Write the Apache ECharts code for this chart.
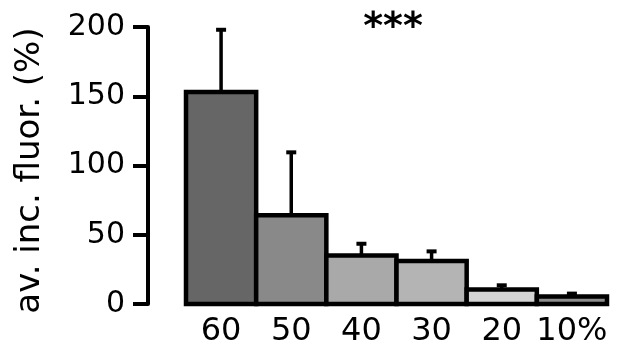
<!DOCTYPE html>
<html>
<head>
<meta charset="utf-8">
<script src="https://cdn.jsdelivr.net/npm/echarts@6/dist/echarts.min.js"></script>
<style>
html,body{margin:0;padding:0;background:#fff;}
#chart{width:629px;height:357px;}
</style>
</head>
<body>
<div id="chart"></div>
<script>
const categories = ['60', '50', '40', '30', '20', '10%'];
const means = [153, 64, 35, 31, 10.5, 5.5];
const errTops = [198, 109.5, 43.5, 38, 13.5, 7.5];
const barColors = ['#666666', '#898989', '#a9a9a9', '#b4b4b4', '#d4d4d4', '#8c8c8c'];
const yTicks = [0, 50, 100, 150, 200];
const yTitle = 'av. inc. fluor. (%)';
const sigText = '***';

const FONT = 'DejaVu Sans';
const chart = echarts.init(document.getElementById('chart'), null, {renderer: 'canvas'});

const barData = categories.map((c, i) => [i, means[i]]);
const errData = categories.map((c, i) => [i, means[i], errTops[i]]);

chart.setOption({
  animation: false,
  backgroundColor: '#ffffff',
  title: {
    text: sigText,
    left: 388, top: 4,
    textAlign: 'center',
    textStyle: {fontFamily: FONT, fontSize: 38, fontWeight: 'bold', color: '#000'}
  },
  grid: {left: 186, right: 22, top: 27, bottom: 53, containLabel: false},
  xAxis: {
    type: 'category',
    data: categories,
    axisLine: {show: false},
    axisTick: {show: false},
    axisLabel: {interval: 0, fontFamily: FONT, fontSize: 32, color: '#000', margin: 12}
  },
  yAxis: {
    type: 'value',
    min: yTicks[0], max: yTicks[yTicks.length - 1], interval: 50,
    offset: 38,
    splitLine: {show: false},
    axisLine: {show: true, lineStyle: {color: '#000', width: 4}},
    axisTick: {show: true, length: 15, lineStyle: {color: '#000', width: 4}},
    axisLabel: {fontFamily: FONT, fontSize: 30, color: '#000', margin: 23},
    name: yTitle,
    nameLocation: 'middle',
    nameRotate: 90,
    nameGap: 101,
    nameTextStyle: {fontFamily: FONT, fontSize: 34, color: '#000', padding: [0, 10, 0, 0]}
  },
  series: [
    {
      type: 'custom',
      z: 1,
      renderItem: function (params, api) {
        const i = api.value(0);
        const w = api.size([1, 0])[0];
        const top = api.coord([i, api.value(1)]);
        const base = api.coord([i, 0]);
        return {
          type: 'rect',
          shape: {x: top[0] - w / 2, y: top[1], width: w, height: base[1] - top[1]},
          style: {fill: barColors[params.dataIndex], stroke: '#000', lineWidth: 4.5}
        };
      },
      data: barData
    },
    {
      type: 'custom',
      z: 2,
      renderItem: function (params, api) {
        const x = api.value(0);
        const top = api.coord([x, api.value(2)]);
        const bot = api.coord([x, api.value(1)]);
        const capW = 10;
        return {
          type: 'group',
          children: [
            {type: 'line', shape: {x1: top[0], y1: top[1], x2: bot[0], y2: bot[1]}, style: {stroke: '#000', lineWidth: 3.5}},
            {type: 'line', shape: {x1: top[0] - capW / 2, y1: top[1], x2: top[0] + capW / 2, y2: top[1]}, style: {stroke: '#000', lineWidth: 4}}
          ]
        };
      },
      data: errData
    }
  ]
});
</script>
</body>
</html>
